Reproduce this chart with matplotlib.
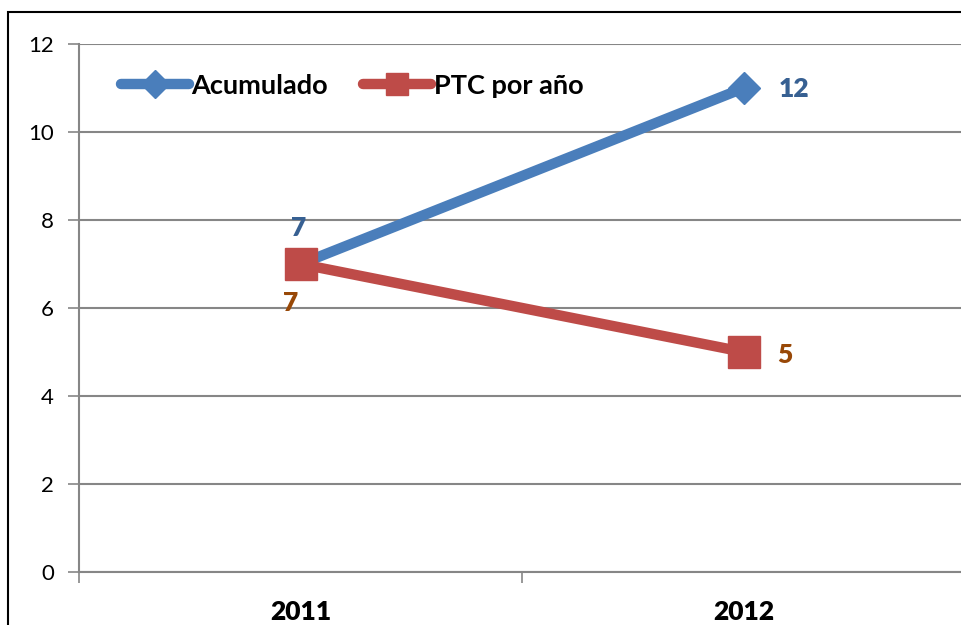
import matplotlib
matplotlib.use("Agg")
import matplotlib.pyplot as plt
from matplotlib.patches import Rectangle
from matplotlib.lines import Line2D
from matplotlib.font_manager import FontProperties

categories = ["2011", "2012"]
acumulado = [7, 11]
acumulado_labels = ["7", "12"]
ptc = [7, 5]
ptc_labels = ["7", "5"]
yticks = [0, 2, 4, 6, 8, 10, 12]

BLUE = "#4A7EBB"
RED = "#BE4B48"
BLUE_TXT = "#376092"
ORANGE_TXT = "#984807"
GRID = "#868686"
FONT = ["Lato", "DejaVu Sans"]

bold_lbl = FontProperties(family=FONT, weight="heavy", size=19)
tick_y = FontProperties(family=FONT, weight="normal", size=16)
tick_x = FontProperties(family=FONT, weight="heavy", size=19)
leg_fp = FontProperties(family=FONT, weight="bold", size=19.5)

fig = plt.figure(figsize=(9.61, 6.25), dpi=100)
fig.patches.append(Rectangle((8/961, -0.1), 1.2, (625-12)/625 + 0.1, transform=fig.transFigure,
                             fill=False, edgecolor="black", linewidth=1.5, zorder=0))

left = 79/961
right = 965.5/961
bottom = (625-572)/625
top = (625-44)/625
ax = fig.add_axes([left, bottom, right-left, top-bottom])
ax.set_xlim(-0.5, 1.5)
ax.set_ylim(0, 12)

x = list(range(len(categories)))
ax.plot(x, acumulado, color=BLUE, linewidth=7.5, marker="D", markersize=16,
        markeredgecolor=BLUE, solid_capstyle="round", zorder=3)
ax.plot(x, ptc, color=RED, linewidth=7.5, marker="s", markersize=23,
        markeredgecolor=RED, solid_capstyle="round", zorder=4)

ax.annotate(acumulado_labels[0], (x[0], acumulado[0]), xytext=(-2, 36), textcoords="offset pixels",
            ha="center", va="center", color=BLUE_TXT, fontproperties=bold_lbl)
ax.annotate(acumulado_labels[1], (x[1], acumulado[1]), xytext=(50, -1), textcoords="offset pixels",
            ha="center", va="center", color=BLUE_TXT, fontproperties=bold_lbl)
ax.annotate(ptc_labels[0], (x[0], ptc[0]), xytext=(-10, -39), textcoords="offset pixels",
            ha="center", va="center", color=ORANGE_TXT, fontproperties=bold_lbl)
ax.annotate(ptc_labels[1], (x[1], ptc[1]), xytext=(41, -3), textcoords="offset pixels",
            ha="center", va="center", color=ORANGE_TXT, fontproperties=bold_lbl)

ax.set_yticks(yticks)
ax.set_yticklabels([str(v) for v in yticks], fontproperties=tick_y)
ax.yaxis.grid(True, color=GRID, linewidth=1.5)
ax.set_axisbelow(True)
ax.tick_params(axis="y", length=8, width=1.2, color=GRID, pad=10)

ax.set_xticks(x)
ax.set_xticklabels(categories, fontproperties=tick_x)
ax.set_xticks([-0.5, 0.5, 1.5], minor=True)
ax.tick_params(axis="x", which="major", length=0, pad=20)
ax.tick_params(axis="x", which="minor", length=8, width=1.2, color=GRID)

for s in ["top", "right"]:
    ax.spines[s].set_visible(False)
ax.spines["left"].set_color(GRID)
ax.spines["left"].set_linewidth(1.5)
ax.spines["bottom"].set_color(GRID)
ax.spines["bottom"].set_linewidth(1.5)

handles = [
    Line2D([0], [0], color=BLUE, linewidth=7.5, marker="D", markersize=14, solid_capstyle="round"),
    Line2D([0], [0], color=RED, linewidth=7.5, marker="s", markersize=16, solid_capstyle="round"),
]
leg = ax.legend(handles, ["Acumulado", "PTC por año"], loc="upper left", bbox_to_anchor=(0.02, 0.99),
                ncol=2, frameon=False, handlelength=2.5, handletextpad=0.1, columnspacing=1.3,
                prop=leg_fp)

fig.savefig("out.png", dpi=100)
